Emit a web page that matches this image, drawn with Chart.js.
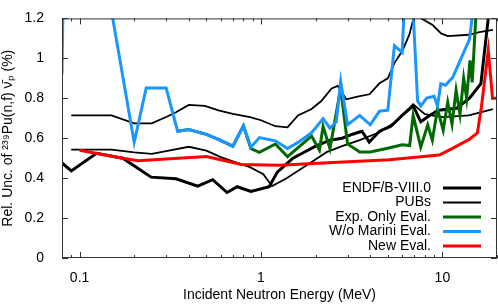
<!DOCTYPE html>
<html>
<head>
<meta charset="utf-8">
<script src="https://cdn.jsdelivr.net/npm/chart.js@4.4.1/dist/chart.umd.min.js"></script>
<style>
  html, body { margin: 0; padding: 0; background: #fff; overflow: hidden; }
  #grafico { display: block; }
</style>
</head>
<body>
<canvas id="grafico" width="498" height="304"></canvas>
<script>
// ---- Datos (energia en MeV, incertidumbre en %) ----
const endfE = [0.08, 0.09, 0.124, 0.173, 0.248, 0.34, 0.448, 0.542, 0.65, 0.74, 0.88, 1.11, 1.23, 1.5, 1.74, 2.0, 2.4, 2.8, 3.2, 3.6, 3.95, 4.5, 5.2, 6.0, 6.9, 7.6, 8.5, 9.5, 12, 14.1, 16.3, 17.9, 20];
const endfU = [0.476, 0.436, 0.524, 0.50, 0.405, 0.397, 0.36, 0.392, 0.328, 0.357, 0.333, 0.357, 0.43, 0.50, 0.531, 0.56, 0.59, 0.60, 0.62, 0.635, 0.58, 0.635, 0.66, 0.714, 0.762, 0.682, 0.714, 0.74, 0.75, 0.80, 0.873, 1.2, 1.55];

const pubsE = [0.09, 0.15, 0.2, 0.25, 0.3, 0.4, 0.5, 0.6, 0.7, 0.87, 1.03, 1.15, 1.37, 1.93, 2.3, 2.8, 3.5, 4.5, 5.5, 6.9, 8.0, 10, 14, 19];
const pubsU = [0.543, 0.543, 0.529, 0.522, 0.535, 0.557, 0.538, 0.505, 0.484, 0.455, 0.42, 0.36, 0.397, 0.484, 0.53, 0.56, 0.59, 0.63, 0.68, 0.77, 0.72, 0.706, 0.714, 0.746];

const pubsAltE = [0.09, 0.15, 0.2, 0.25, 0.3, 0.34, 0.4, 0.49, 0.59, 0.7, 0.87, 1.0, 1.2, 1.4, 1.6, 1.9, 2.15, 2.45, 2.65, 2.95, 3.45, 3.96, 4.5, 5.0, 5.44, 6.04, 6.58, 7.2, 7.63, 8.84, 9.84, 10.7, 14, 16, 19];
const pubsAltU = [0.714, 0.714, 0.674, 0.674, 0.706, 0.73, 0.767, 0.762, 0.738, 0.722, 0.706, 0.69, 0.66, 0.654, 0.714, 0.746, 0.786, 0.849, 0.862, 0.795, 0.81, 0.82, 0.875, 0.90, 0.976, 1.04, 1.12, 1.26, 1.2, 1.167, 1.125, 1.111, 1.118, 1.131, 1.143];

const expE = [0.347, 0.4, 0.5, 0.59, 0.7, 0.8, 0.88, 0.98, 1.2, 1.4, 1.9, 2.1, 2.2, 2.4, 2.75, 3.0, 3.5, 4.0, 5.0, 6.0, 6.6, 6.9, 7.6, 8.3, 8.8, 9.4, 10.1, 10.7, 11.3, 11.9, 12.5, 13.1, 13.6, 14.2, 14.6, 15.2, 15.8];
const expU = [0.635, 0.643, 0.619, 0.592, 0.56, 0.662, 0.548, 0.529, 0.571, 0.508, 0.611, 0.54, 0.659, 0.548, 0.85, 0.571, 0.531, 0.531, 0.55, 0.567, 0.563, 0.714, 0.555, 0.667, 0.59, 0.746, 0.64, 0.78, 0.67, 0.84, 0.72, 0.90, 0.80, 0.99, 0.88, 1.17, 1.4];

const marE = [0.08, 0.082, 0.1, 0.125, 0.2, 0.233, 0.3, 0.347, 0.4, 0.5, 0.59, 0.7, 0.8, 0.88, 0.98, 1.2, 1.4, 1.6, 1.9, 2.2, 2.4, 2.6, 2.75, 3.0, 3.5, 4.0, 4.5, 5.0, 5.44, 6.0, 6.5, 7.3, 7.6, 8.2, 9.0, 9.4, 9.8, 10.4, 11.4, 14.1, 16];
const marU = [0.92, 1.6, 1.7, 1.65, 0.58, 0.852, 0.852, 0.635, 0.643, 0.619, 0.592, 0.56, 0.662, 0.555, 0.603, 0.587, 0.548, 0.579, 0.627, 0.698, 0.65, 0.682, 0.884, 0.667, 0.714, 0.667, 0.735, 0.74, 1.063, 1.03, 1.7, 0.786, 0.762, 0.801, 0.81, 0.762, 0.873, 0.865, 0.905, 1.095, 1.5];

const newE = [0.1, 0.173, 0.21, 0.5, 0.78, 1.26, 2.2, 5.1, 9.6, 11.3, 14.1, 15.6, 16.4, 17.9, 18.9, 20];
const newU = [0.54, 0.50, 0.487, 0.508, 0.468, 0.465, 0.476, 0.492, 0.516, 0.548, 0.595, 0.627, 0.754, 1.04, 0.80, 0.80];

const xTicks = [0.1, 1, 10];
const yTicks = [0, 0.2, 0.4, 0.6, 0.8, 1, 1.2];

// ---- Une energias y valores en puntos {x, y} ----
const toPoints = (e, u) => e.map((v, i) => ({ x: v, y: u[i] }));

const azul = 'rgb(25, 150, 255)';
const verde = 'rgb(0, 105, 0)';
const rojo = 'rgb(255, 0, 0)';
const fuente = '"Liberation Sans", Arial, sans-serif';

// Ticks hacia adentro y marco estilo gnuplot
const marcoPlugin = {
    id: 'marco',
    afterDatasetsDraw(chart) {
        const { ctx, chartArea: a, scales } = chart;
        ctx.save();
        ctx.strokeStyle = '#333';
        ctx.lineWidth = 1;
        ctx.strokeRect(a.left + 0.5, a.top + 0.5, a.right - a.left - 1, a.bottom - a.top - 1);
        ctx.beginPath();
        // ticks eje x (mayores y menores)
        for (let dec = -2; dec <= 1; dec++) {
            for (let m = 1; m <= 9; m++) {
                const v = m * Math.pow(10, dec);
                if (v < scales.x.min || v > scales.x.max) continue;
                const px = Math.round(scales.x.getPixelForValue(v)) + 0.5;
                const len = m === 1 ? 6 : 3;
                ctx.moveTo(px, a.bottom); ctx.lineTo(px, a.bottom - len);
                ctx.moveTo(px, a.top); ctx.lineTo(px, a.top + len);
            }
        }
        yTicks.forEach(v => {
            const py = Math.round(scales.y.getPixelForValue(v)) + 0.5;
            ctx.moveTo(a.left, py); ctx.lineTo(a.left + 6, py);
            ctx.moveTo(a.right, py); ctx.lineTo(a.right - 6, py);
        });
        ctx.stroke();
        ctx.restore();
    }
};

// Leyenda abajo a la derecha: texto a la izquierda, muestra de linea a la derecha
const leyendaPlugin = {
    id: 'leyenda',
    afterDraw(chart) {
        const { ctx, chartArea: a } = chart;
        const items = chart.data.datasets.filter(d => d.label);
        ctx.save();
        ctx.font = '14px ' + fuente;
        ctx.textAlign = 'right';
        ctx.textBaseline = 'middle';
        items.forEach((d, i) => {
            const y = a.bottom - 70 + i * 14.5;
            ctx.fillStyle = '#000';
            ctx.fillText(d.label, a.right - 66, y);
            ctx.strokeStyle = d.borderColor;
            ctx.lineWidth = d.borderWidth;
            ctx.beginPath();
            ctx.moveTo(a.right - 54, y);
            ctx.lineTo(a.right - 16, y);
            ctx.stroke();
        });
        ctx.restore();
    }
};

const grafico = new Chart(document.querySelector('#grafico'), {
    type: 'line',
    data: {
        datasets: [
            { label: 'ENDF/B-VIII.0', data: toPoints(endfE, endfU), borderColor: '#000', borderWidth: 3, order: 5 },
            { label: 'PUBs', data: toPoints(pubsE, pubsU), borderColor: '#000', borderWidth: 1.8, order: 4 },
            { label: '', data: toPoints(pubsAltE, pubsAltU), borderColor: '#000', borderWidth: 1.8, order: 4 },
            { label: 'Exp. Only Eval.', data: toPoints(expE, expU), borderColor: verde, borderWidth: 3, order: 3 },
            { label: 'W/o Marini Eval.', data: toPoints(marE, marU), borderColor: azul, borderWidth: 3, order: 2 },
            { label: 'New Eval.', data: toPoints(newE, newU), borderColor: rojo, borderWidth: 3, order: 1 }
        ]
    },
    options: {
        responsive: false,
        animation: false,
        devicePixelRatio: 1,
        layout: { padding: { top: 6, right: 1, left: 0, bottom: 0 } },
        elements: { point: { radius: 0 }, line: { tension: 0, fill: false } },
        plugins: { legend: { display: false }, tooltip: { enabled: false } },
        scales: {
            x: {
                type: 'logarithmic',
                min: 0.08,
                max: 20,
                afterBuildTicks: (s) => { s.ticks = xTicks.map(v => ({ value: v })); },
                afterFit: (s) => { s.height = 46; },
                grid: { display: false },
                border: { display: false },
                ticks: {
                    color: '#000',
                    padding: 4,
                    font: { size: 14, family: fuente },
                    callback: (v) => String(v),
                    maxRotation: 0
                },
                title: {
                    display: true,
                    text: 'Incident Neutron Energy (MeV)',
                    color: '#000',
                    padding: { top: 5, bottom: 0 },
                    font: { size: 14, family: fuente }
                }
            },
            y: {
                min: 0,
                max: 1.2,
                afterBuildTicks: (s) => { s.ticks = yTicks.map(v => ({ value: v })); },
                afterFit: (s) => { s.width = 62; },
                grid: { display: false },
                border: { display: false },
                ticks: {
                    color: '#000',
                    padding: 10,
                    font: { size: 14, family: fuente },
                    callback: (v) => String(Math.round(v * 10) / 10)
                },
                title: {
                    display: true,
                    text: 'Rel. Unc. of \u00B2\u00B3\u2079Pu(n,f) \u03BD\u0304\u209A (%)',
                    color: '#000',
                    padding: { top: 0, bottom: 2 },
                    font: { size: 14, family: fuente }
                }
            }
        }
    },
    plugins: [marcoPlugin, leyendaPlugin]
});
</script>
</body>
</html>
